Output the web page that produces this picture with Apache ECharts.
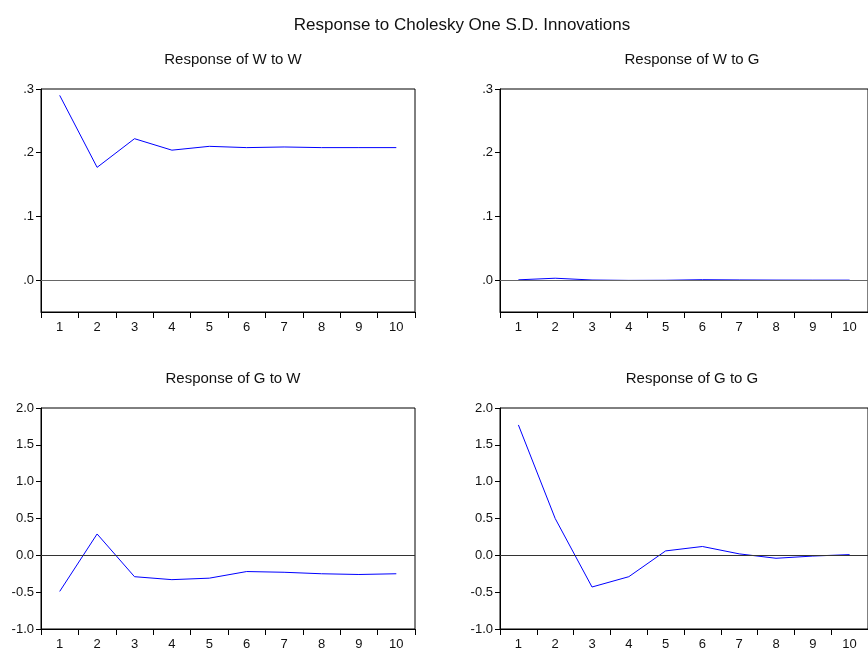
<!DOCTYPE html>
<html>
<head>
<meta charset="utf-8">
<script src="https://cdn.jsdelivr.net/npm/echarts@6/dist/echarts.min.js"></script>
<style>
  html, body { margin: 0; padding: 0; background: #fff; }
  #chart { width: 868px; height: 651px; }
</style>
</head>
<body>
<div id="chart"></div>
<script>
// 脉冲响应 2x2
var periods = ['1', '2', '3', '4', '5', '6', '7', '8', '9', '10'];

var wToW = [0.290, 0.177, 0.222, 0.204, 0.210, 0.208, 0.209, 0.208, 0.208, 0.208];
var wToG = [0.0005, 0.003, 0.0002, -0.0004, -0.0002, 0.0007, 0.0003, 0.0001, 0.0, 0.0];
var gToW = [-0.49, 0.29, -0.29, -0.33, -0.31, -0.22, -0.23, -0.25, -0.26, -0.25];
var gToG = [1.77, 0.50, -0.43, -0.29, 0.06, 0.12, 0.02, -0.04, -0.01, 0.01];

var topTicks = [0, 0.1, 0.2, 0.3];
var topTickLabels = ['.0', '.1', '.2', '.3'];
var bottomTicks = [-1, -0.5, 0, 0.5, 1, 1.5, 2];
var bottomTickLabels = ['-1.0', '-0.5', '0.0', '0.5', '1.0', '1.5', '2.0'];

var mainTitle = 'Response to Cholesky One S.D. Innovations';
var panelTitles = ['Response of W to W', 'Response of W to G', 'Response of G to W', 'Response of G to G'];

var FONT = '"Liberation Sans", Arial, sans-serif';

var chart = echarts.init(document.getElementById('chart'));

var grids = [
    { left: 41, top: 89, width: 374, height: 223 },
    { left: 500, top: 89, width: 374, height: 223 },
    { left: 41, top: 408, width: 374, height: 224 },
    { left: 500, top: 408, width: 374, height: 224 }
];
var titlePos = [[228, 47], [687, 47], [228, 366], [687, 366]];
var seriesData = [wToW, wToG, gToW, gToG];

function yAxisFor(i) {
    var top = i < 2;
    var ticks = top ? topTicks : bottomTicks;
    var labels = top ? topTickLabels : bottomTickLabels;
    return {
        type: 'value',
        gridIndex: i,
        min: top ? -0.05 : -1,
        max: top ? 0.3 : 2,
        splitLine: { show: false },
        axisLine: { show: true, lineStyle: { color: '#000', width: 1 } },
        axisTick: {
            show: true,
            length: 5,
            customValues: ticks,
            lineStyle: { color: '#000' }
        },
        axisLabel: {
            customValues: ticks,
            margin: 7,
            color: '#111',
            fontSize: 13,
            fontFamily: FONT,
            formatter: function (v) {
                var idx = ticks.findIndex(function (t) { return Math.abs(t - v) < 1e-9; });
                return idx >= 0 ? labels[idx] : '';
            }
        }
    };
}

var option = {
    backgroundColor: '#fff',
    animation: false,
    title: [{
        text: mainTitle,
        left: 457,
        top: 12,
        textAlign: 'center',
        textStyle: { fontFamily: FONT, fontSize: 17, fontWeight: 'normal', color: '#111' }
    }].concat(panelTitles.map(function (t, i) {
        return {
            text: t,
            left: titlePos[i][0],
            top: titlePos[i][1],
            textAlign: 'center',
            textStyle: { fontFamily: FONT, fontSize: 15, fontWeight: 'normal', color: '#111' }
        };
    })),
    grid: grids.map(function (g) {
        return Object.assign({ show: true, borderColor: '#000', borderWidth: 1, backgroundColor: '#fff' }, g);
    }),
    xAxis: grids.map(function (g, i) {
        return {
            type: 'category',
            gridIndex: i,
            data: periods,
            boundaryGap: true,
            axisLine: { show: true, onZero: false, lineStyle: { color: '#000', width: 1 } },
            axisTick: { show: true, length: 6, interval: 0, lineStyle: { color: '#000' } },
            axisLabel: { margin: 9, color: '#111', fontSize: 13, fontFamily: FONT, interval: 0 },
            splitLine: { show: false }
        };
    }),
    yAxis: grids.map(function (g, i) { return yAxisFor(i); }),
    series: seriesData.map(function (d, i) {
        return {
            type: 'line',
            xAxisIndex: i,
            yAxisIndex: i,
            data: d,
            symbol: 'none',
            lineStyle: { color: '#0000ff', width: 1 },
            markLine: {
                silent: true,
                symbol: 'none',
                label: { show: false },
                lineStyle: { color: i < 2 ? '#666' : '#333', width: 1, type: 'solid' },
                data: [{ yAxis: 0 }]
            },
            z: 3
        };
    })
};

chart.setOption(option);
</script>
</body>
</html>
